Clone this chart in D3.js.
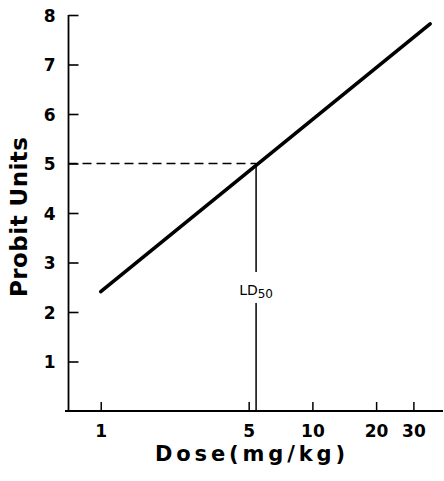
<!DOCTYPE html>
<html><head><meta charset="utf-8">
<script src="https://cdn.jsdelivr.net/npm/d3@7"></script>
<style>
html,body{margin:0;padding:0;background:#fff;}
svg{display:block;}
text{font-family:"DejaVu Sans","Liberation Sans",Arial,sans-serif;fill:#000;}
</style></head>
<body>
<svg id="chart" width="444" height="481"></svg>
<script>
// Data
const dose = [1, 36];
const probit = [2.41, 7.82];
const ld50Dose = [5.42];
const ld50Probit = [5];
const xTickValues = [1, 5, 10, 20, 30];
const xTickLabels = ["1", "5", "10", "20", "30"];
const yTickValues = [1, 2, 3, 4, 5, 6, 7, 8];
const xTitle = "Dose(mg/kg)";
const yTitle = "Probit Units";

const svg = d3.select("#chart");
const x = d3.scaleLog().domain([0.678, 41.4]).range([65, 443]);
const y = d3.scaleLinear().domain([0, 8]).range([411, 15]);
const axisX0 = 68.5;

// Y axis
const yAxis = d3.axisRight(y).tickValues(yTickValues).tickSize(10).tickFormat(d3.format("d"));
const gy = svg.append("g").attr("transform", `translate(${axisX0},0)`).call(yAxis);
gy.select(".domain").remove();
gy.selectAll(".tick line").attr("stroke", "#000").attr("stroke-width", 1.6);
gy.selectAll(".tick text").attr("x", -13).attr("text-anchor", "end")
  .style("font-size", "17px").style("font-weight", "bold").attr("dy", "0.36em");
svg.append("line").attr("x1", axisX0).attr("x2", axisX0).attr("y1", y(8)).attr("y2", y(0))
  .attr("stroke", "#000").attr("stroke-width", 1.8);

// X axis
const xAxis = d3.axisTop(x).tickValues(xTickValues).tickSize(9)
  .tickFormat((d, i) => xTickLabels[i]);
const gx = svg.append("g").attr("transform", `translate(0,${y(0)})`).call(xAxis);
gx.select(".domain").remove();
gx.selectAll(".tick line").attr("stroke", "#000").attr("stroke-width", 1.5);
gx.selectAll(".tick text").attr("y", 26).attr("dy", 0)
  .style("font-size", "17px").style("font-weight", "bold");
svg.append("line").attr("x1", x.range()[0]).attr("x2", x.range()[1]).attr("y1", y(0)).attr("y2", y(0))
  .attr("stroke", "#000").attr("stroke-width", 1.8);

// Dashed line at probit 5
svg.append("line")
  .attr("x1", axisX0).attr("x2", x(ld50Dose[0]))
  .attr("y1", y(ld50Probit[0])).attr("y2", y(ld50Probit[0]))
  .attr("stroke", "#000").attr("stroke-width", 1.5).attr("stroke-dasharray", "9,5");

// Vertical LD50 line with gap for label
const lx = x(ld50Dose[0]);
svg.append("line").attr("x1", lx).attr("x2", lx).attr("y1", y(ld50Probit[0])).attr("y2", 272)
  .attr("stroke", "#000").attr("stroke-width", 1.5);
svg.append("line").attr("x1", lx).attr("x2", lx).attr("y1", 303).attr("y2", y(0))
  .attr("stroke", "#000").attr("stroke-width", 1.5);
const lab = svg.append("text").attr("x", lx).attr("y", 295).attr("text-anchor", "middle")
  .style("font-size", "14px");
lab.append("tspan").text("LD");
lab.append("tspan").attr("dy", 3).style("font-size", "12px").text("50");

// Main probit line
const line = d3.line().x((d, i) => x(dose[i])).y((d, i) => y(probit[i]));
svg.append("path").datum(dose).attr("d", line)
  .attr("fill", "none").attr("stroke", "#000").attr("stroke-width", 3.6).attr("stroke-linecap", "round");

// Titles
svg.append("text").attr("x", 250).attr("y", 461).attr("text-anchor", "middle")
  .attr("textLength", 190).attr("lengthAdjust", "spacing")
  .style("font-size", "21px").style("font-weight", "bold").text(xTitle);
svg.append("text").attr("transform", "translate(27,217) rotate(-90)").attr("text-anchor", "middle")
  .attr("textLength", 160).attr("lengthAdjust", "spacing")
  .style("font-size", "23px").style("font-weight", "bold").text(yTitle);
</script>
</body></html>
